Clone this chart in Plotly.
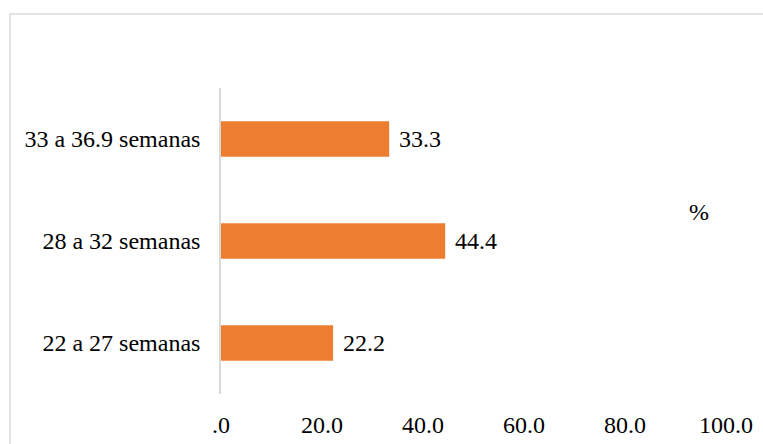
import plotly.graph_objects as go

categories = ["22 a 27 semanas", "28 a 32 semanas", "33 a 36.9 semanas"]
values = [22.2, 44.4, 33.3]
x_ticks = [0, 20, 40, 60, 80, 100]
x_tick_labels = [".0", "20.0", "40.0", "60.0", "80.0", "100.0"]

FONT = "'Liberation Serif', 'Times New Roman', Tinos, 'DejaVu Serif', serif"
FS = 24

fig = go.Figure(go.Bar(
    x=values, y=categories, orientation="h",
    marker=dict(color="#ED7D31", line=dict(width=0)),
    width=0.35,
))

for v, c in zip(values, categories):
    fig.add_annotation(x=v, y=c, text=f"{v:.1f}", showarrow=False,
                       xanchor="left", xshift=8,
                       font=dict(family=FONT, size=FS, color="#000000"))

fig.update_layout(
    width=763, height=444,
    margin=dict(l=221, r=37, t=88, b=50, autoexpand=False),
    paper_bgcolor="white", plot_bgcolor="white",
    showlegend=False,
    font=dict(family=FONT, size=FS, color="#000000"),
    xaxis=dict(range=[0, 100], tickvals=x_ticks, ticktext=x_tick_labels,
               showgrid=False, zeroline=False, showline=False, ticks="",
               automargin=False,
               ticklabelstandoff=14, tickfont=dict(family=FONT, size=FS)),
    yaxis=dict(range=[-0.5, 2.5], showgrid=False, zeroline=False,
               showline=True, linecolor="#d9d9d9", linewidth=1.5, ticks="",
               automargin=False,
               ticklabelstandoff=14, tickfont=dict(family=FONT, size=FS)),
    shapes=[dict(type="rect", xref="paper", yref="paper",
                 x0=-0.4178, x1=1.1, y0=-0.2, y1=1.2418,
                 line=dict(color="#d9d9d9", width=1.5), fillcolor="rgba(0,0,0,0)",
                 layer="below")],
)
fig.add_annotation(text="%", xref="paper", yref="paper", x=(699 - 221) / 505,
                   y=1 - (212 - 88) / 306, showarrow=False,
                   xanchor="center", yanchor="middle",
                   font=dict(family=FONT, size=FS, color="#000000"))

fig.write_html("out.html")
